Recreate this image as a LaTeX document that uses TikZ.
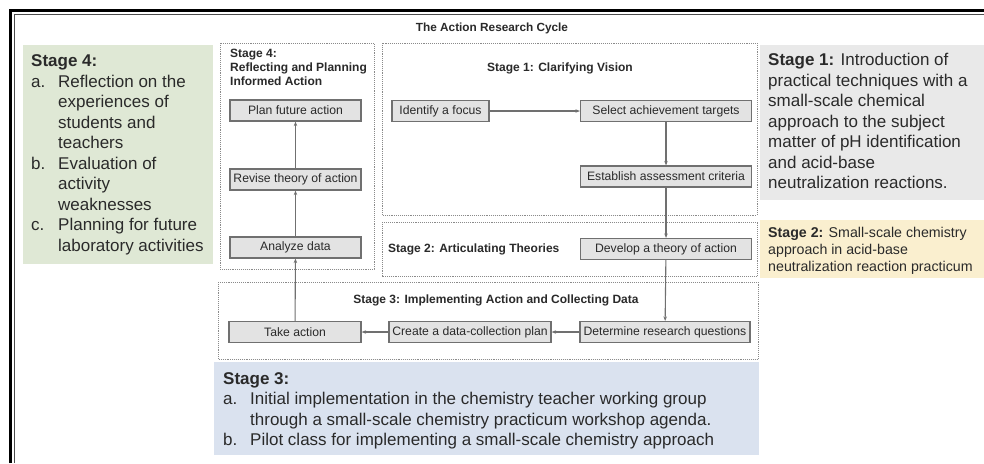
\documentclass[tikz,border=0pt]{standalone}
\usepackage{fontspec}
\setmainfont{Liberation Sans}
\usepackage{array}
\usetikzlibrary{arrows.meta}
\definecolor{txt}{HTML}{2A2A2A}
\definecolor{greenbg}{HTML}{DFE8D5}
\definecolor{greybg}{HTML}{E9E9E9}
\definecolor{yellowbg}{HTML}{FAEFCF}
\definecolor{bluebg}{HTML}{DAE2EF}
\definecolor{boxfill}{HTML}{E3E3E3}
\definecolor{boxdraw}{HTML}{707070}
\definecolor{dotdraw}{HTML}{8A8A8A}
\tikzset{
  stepbox/.style={draw=boxdraw, fill=boxfill, line width=1.2pt, minimum height=21pt, inner sep=0pt,
    text=txt, font=\fontsize{12.2}{14}\selectfont},
  stagearea/.style={draw=dotdraw, densely dotted, line width=0.9pt},
  stagetitle/.style={text=txt, font=\bfseries\fontsize{12}{14}\selectfont, inner sep=0pt},
  conn/.style={draw=boxdraw, line width=1.1pt, -{Stealth[length=4.5pt,width=3.5pt]}},
  bigtext/.style={text=txt, inner sep=0pt, anchor=north west, align=left, font=\fontsize{17}{20.5}\selectfont},
}
\begin{document}
\begin{tikzpicture}[x=1pt,y=-1pt]
\useasboundingbox (0,0) rectangle (984,463);
\fill[white] (0,0) rectangle (984,463);
% outer frame
\draw[line width=2.4pt, black] (10.5,463) -- (10.5,10.5) -- (984,10.5);
\draw[line width=1pt, black!70] (14.5,463) -- (14.5,14.5) -- (984,14.5);
% title
\node[stagetitle, font=\bfseries\fontsize{11.8}{14}\selectfont] (title) at (492,28) {The Action Research Cycle};

% coloured note boxes
\fill[greenbg] (23,45) rectangle (213,264);
\node[bigtext] (g4) at (31,52) {\begin{tabular}{@{}p{27pt}@{}l@{}}
\multicolumn{2}{@{}l@{}}{\bfseries Stage 4:}\\
a. & Reflection on the\\
   & experiences of\\
   & students and\\
   & teachers\\
b. & Evaluation of\\
   & activity\\
   & weaknesses\\
c. & Planning for future\\
   & laboratory activities
\end{tabular}};

\fill[greybg] (760,45) rectangle (984,200);
\node[bigtext] (g1) at (768,53) {\textbf{Stage 1:} Introduction of\\
practical techniques with a\\
small-scale chemical\\
approach to the subject\\
matter of pH identification\\
and acid-base\\
neutralization reactions.};

\fill[yellowbg] (760,220) rectangle (984,278);
\node[bigtext, font=\fontsize{14.2}{17}\selectfont] (g2) at (768,227) {\textbf{Stage 2:} Small-scale chemistry\\
approach in acid-base\\
neutralization reaction practicum};

\fill[bluebg] (214,362) rectangle (759,455);
\node[bigtext] (g3) at (223,369.5) {\begin{tabular}{@{}p{27pt}@{}l@{}}
\multicolumn{2}{@{}l@{}}{\bfseries Stage 3:}\\
a. & Initial implementation in the chemistry teacher working group\\
   & through a small-scale chemistry practicum workshop agenda.\\
b. & Pilot class for implementing a small-scale chemistry approach
\end{tabular}};

% dotted stage areas
\draw[stagearea] (220,43) rectangle (374,269);
\draw[stagearea] (382,43) rectangle (757,215);
\draw[stagearea] (382,222) rectangle (757,276);
\draw[stagearea] (218,282) rectangle (758,359);

% stage titles
\node[stagetitle, anchor=north west, align=left] (t4) at (230,49) {Stage 4:\\Reflecting and Planning\\Informed Action};
\node[stagetitle] (t1) at (560,68) {Stage 1: Clarifying Vision};
\node[stagetitle, anchor=west] (t2) at (388,249) {Stage 2: Articulating Theories};
\node[stagetitle] (t3) at (496,300) {Stage 3: Implementing Action and Collecting Data};

% step boxes
\node[stepbox, minimum width=131pt] (plan) at (295.5,110.5) {Plan future action};
\node[stepbox, minimum width=131pt] (revise) at (295.5,179.5) {Revise theory of action};
\node[stepbox, minimum width=131pt] (analyze) at (295.5,247.5) {Analyze data};
\node[stepbox, minimum width=97pt] (identify) at (440.5,111) {Identify a focus};
\node[stepbox, minimum width=171pt] (select) at (666,111) {Select achievement targets};
\node[stepbox, minimum width=171pt] (establish) at (666,176.5) {Establish assessment criteria};
\node[stepbox, minimum width=171pt] (develop) at (666,249) {Develop a theory of action};
\node[stepbox, minimum width=170pt] (determine) at (665,332) {Determine research questions};
\node[stepbox, minimum width=162pt] (create) at (470,332) {Create a data-collection plan};
\node[stepbox, minimum width=132pt] (take) at (295,332) {Take action};

% connectors
\draw[conn] (identify) -- (select);
\draw[conn] (select) -- (establish);
\draw[conn] (establish) -- (develop);
\draw[conn] (develop) -- (determine);
\draw[conn] (determine) -- (create);
\draw[conn] (create) -- (take);
\draw[conn] (take) -- (analyze);
\draw[conn] (analyze) -- (revise);
\draw[conn] (revise) -- (plan);
\end{tikzpicture}
\end{document}
